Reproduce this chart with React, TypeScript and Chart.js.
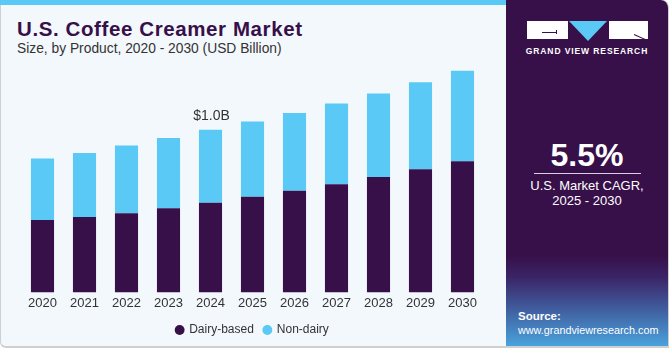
import React, { useEffect, useRef } from "react";
import { Chart, registerables } from "chart.js";

Chart.register(...registerables);

const categories = ["2020", "2021", "2022", "2023", "2024", "2025", "2026", "2027", "2028", "2029", "2030"];
const dairyBased = [0.446, 0.463, 0.487, 0.517, 0.551, 0.588, 0.625, 0.665, 0.710, 0.758, 0.807];
const nonDairy = [0.377, 0.395, 0.416, 0.432, 0.449, 0.463, 0.478, 0.497, 0.513, 0.534, 0.556];
const seriesNames = ["Dairy-based", "Non-dairy"];
const annotationIndex = 4;
const annotationText = "$1.0B";

const PURPLE = "#371049";
const BLUE = "#5bc9f5";
const FONT = "'Liberation Sans', Arial, sans-serif";

const labelPlugin = {
  id: "topLabel",
  afterDatasetsDraw(chart: any) {
    const meta = chart.getDatasetMeta(1);
    const el = meta.data[annotationIndex];
    if (!el) return;
    const ctx = chart.ctx;
    ctx.save();
    ctx.font = `14px ${FONT}`;
    ctx.fillStyle = "#333333";
    ctx.textAlign = "center";
    ctx.textBaseline = "alphabetic";
    ctx.fillText(annotationText, el.x + 1, el.y - 10);
    ctx.restore();
  },
};

export default function App() {
  const ref = useRef<HTMLCanvasElement>(null);
  useEffect(() => {
    if (!ref.current) return;
    const chart = new Chart(ref.current, {
      type: "bar",
      data: {
        labels: categories,
        datasets: [
          { label: seriesNames[0], data: dairyBased, backgroundColor: PURPLE, barPercentage: 0.55, categoryPercentage: 1 },
          { label: seriesNames[1], data: nonDairy, backgroundColor: BLUE, barPercentage: 0.55, categoryPercentage: 1 },
        ],
      },
      options: {
        responsive: false,
        animation: false,
        devicePixelRatio: 1,
        layout: { padding: { left: 21.5, right: 21.5, top: 48.5, bottom: 4 } },
        scales: {
          x: {
            stacked: true,
            grid: { display: false, drawTicks: false },
            border: { display: false },
            ticks: { color: "#333333", font: { family: FONT, size: 13 }, padding: 3, maxRotation: 0 },
          },
          y: { stacked: true, display: false, min: 0, max: 1.5 },
        },
        plugins: {
          legend: {
            position: "bottom",
            labels: {
              usePointStyle: true,
              pointStyle: "circle",
              boxWidth: 7,
              boxHeight: 7,
              padding: 10,
              color: "#333333",
              font: { family: FONT, size: 12 },
            },
          },
          tooltip: { enabled: false },
        },
      },
      plugins: [labelPlugin],
    });
    return () => chart.destroy();
  }, []);

  return (
    <div style={{ position: "fixed", left: 0, top: 0, width: 671, height: 350, background: "#ffffff", overflow: "hidden", fontFamily: FONT }}>
      <div style={{ position: "absolute", left: 0, top: 0, width: 505, height: 346, background: "#f3f8fc", borderLeft: "1px solid #cfcfcf", borderBottom: "2px solid #cfcfcf", borderBottomLeftRadius: 6 }} />
      <div style={{ position: "absolute", left: 0, top: 0, width: 506, height: 5, background: BLUE }} />
      <div style={{ position: "absolute", left: 17, top: 19, fontSize: 20.5, lineHeight: "20px", fontWeight: 700, letterSpacing: 0.6, color: PURPLE, whiteSpace: "nowrap" }}>
        U.S. Coffee Creamer Market
      </div>
      <div style={{ position: "absolute", left: 17, top: 41.5, fontSize: 13.8, lineHeight: "14px", color: "#333333", whiteSpace: "nowrap" }}>
        Size, by Product, 2020 - 2030 (USD Billion)
      </div>
      <canvas ref={ref} width={505} height={350} style={{ position: "absolute", left: 0, top: 0 }} />
      <div style={{ position: "absolute", left: 506, top: 0, width: 162, height: 346, borderTopRightRadius: 8, borderRight: "1px solid #cfcfcf", borderBottom: "2px solid #cfcfcf", background: "linear-gradient(to bottom, #371049 0%, #371049 74%, #3a2466 80%, #3f5596 88%, #4aa2dd 100%)", overflow: "hidden" }}>
        <div style={{ position: "absolute", left: 21, top: 20.5, width: 41, height: 18.5, background: "#ffffff" }}>
          <div style={{ position: "absolute", left: 15, top: 11, width: 15, height: 1, background: PURPLE }} />
          <div style={{ position: "absolute", left: 29, top: 9, width: 1, height: 4, background: PURPLE }} />
        </div>
        <div style={{ position: "absolute", left: 63, top: 20.5, width: 0, height: 0, borderLeft: "19px solid transparent", borderRight: "19px solid transparent", borderTop: "20px solid " + BLUE }} />
        <div style={{ position: "absolute", left: 103, top: 20.5, width: 39, height: 18.5, background: "#ffffff", overflow: "hidden" }}>
          <div style={{ position: "absolute", left: 25, top: 13, width: 16, height: 1, background: PURPLE, transform: "rotate(24deg)", transformOrigin: "left center" }} />
        </div>
        <div style={{ position: "absolute", left: 0, width: 162, top: 46, textAlign: "center", fontSize: 8.5, lineHeight: "11px", fontWeight: 700, letterSpacing: 0.9, color: "#ffffff", whiteSpace: "nowrap" }}>
          GRAND VIEW RESEARCH
        </div>
        <div style={{ position: "absolute", left: 0, width: 162, top: 139, textAlign: "center", fontSize: 32, lineHeight: "32px", fontWeight: 700, color: "#ffffff" }}>
          5.5%
        </div>
        <div style={{ position: "absolute", left: 28, top: 173, width: 107, height: 1, background: "#d8d0e0" }} />
        <div style={{ position: "absolute", left: 0, width: 162, top: 179, textAlign: "center", fontSize: 13, lineHeight: "14.5px", color: "#ffffff" }}>
          U.S. Market CAGR,<br />2025 - 2030
        </div>
        <div style={{ position: "absolute", left: 12, top: 310, fontSize: 10.8, lineHeight: "13.5px", color: "#ffffff", whiteSpace: "nowrap" }}>
          <div style={{ fontWeight: 700, fontSize: 11.5 }}>Source:</div>
          <div>www.grandviewresearch.com</div>
        </div>
      </div>
    </div>
  );
}
